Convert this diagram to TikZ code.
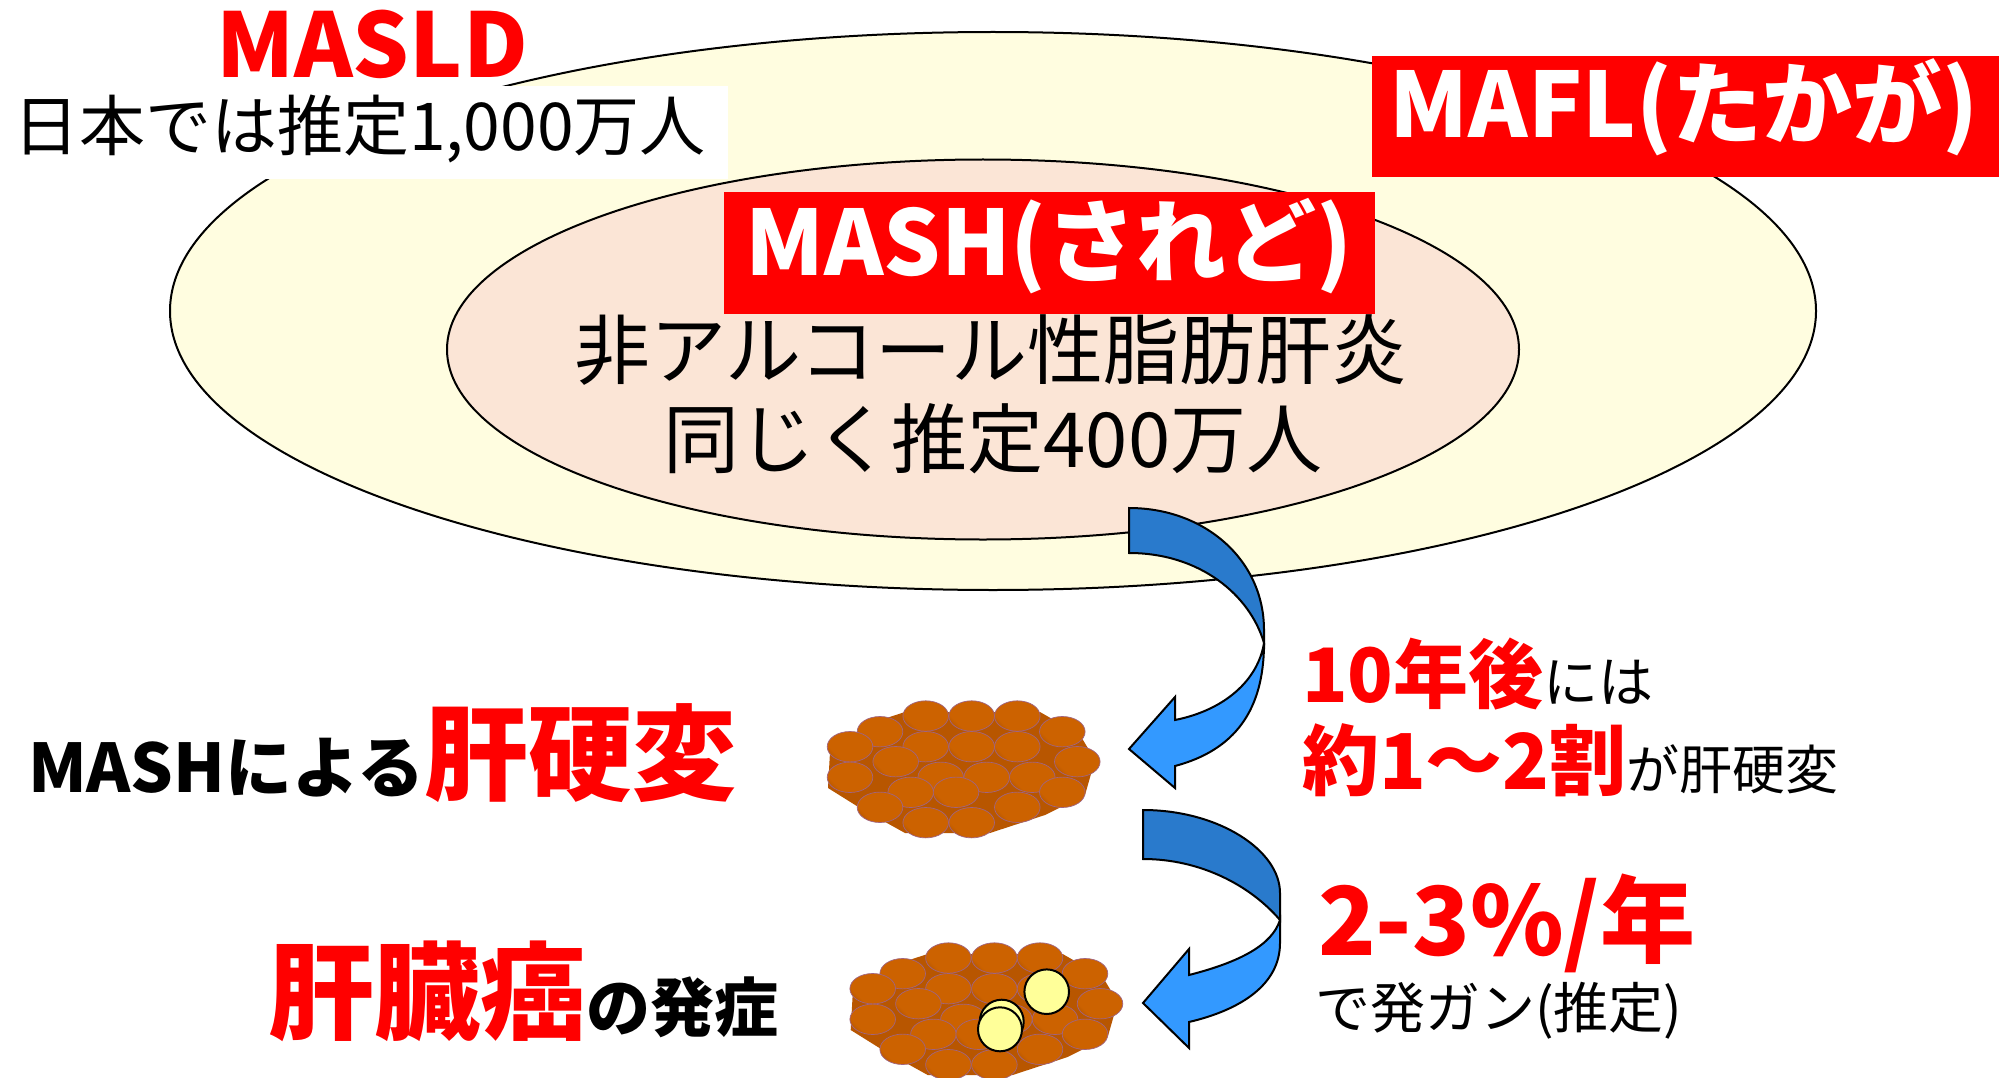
\documentclass[tikz,border=0pt]{standalone}
\usepackage{fontspec}
\setmainfont{Noto Sans CJK JP}
\definecolor{outerfill}{RGB}{255,253,224}
\definecolor{innerfill}{RGB}{251,229,214}
\definecolor{arrowlight}{RGB}{51,153,255}
\definecolor{arrowdark}{RGB}{41,122,204}
\definecolor{celldark}{RGB}{120,54,0}
\definecolor{cellor}{RGB}{204,98,0}
\definecolor{celllight}{RGB}{200,96,0}
\definecolor{cellbase}{RGB}{184,86,0}
\definecolor{cellline}{RGB}{160,100,130}
\definecolor{tumour}{RGB}{255,255,153}
\definecolor{alert}{RGB}{255,0,0}
\pgfdeclarehorizontalshading{cellshade}{100bp}{color(0bp)=(celldark); color(30bp)=(cellor); color(70bp)=(cellor); color(100bp)=(celllight)}
\newcommand\fsz[1]{\fontsize{#1}{#1}\selectfont}
\begin{document}
\begin{tikzpicture}[x=1pt,y=-1pt,
  txt/.style={inner sep=0pt, outer sep=0pt},
  rim/.style={draw=black, line width=2pt},
  banner/.style={fill=alert},
  cell/.style={draw=cellline, line width=0.7pt, shading=cellshade, shading angle=45},
  arrowpart/.style={draw=black, line width=2pt, line join=miter},
  lump/.style={fill=tumour, draw=black, line width=2pt}]
\useasboundingbox[fill=white] (0,0) rectangle (2002,1078);

% nested disease sets
\path[rim, fill=outerfill] (993,311) ellipse[x radius=823, y radius=279];
\path[rim, fill=innerfill] (983,349.5) ellipse[x radius=536, y radius=190];

% MASLD heading
\fill[white] (0,86) rectangle (728,179);
\node[txt, anchor=base, text=alert] (masld) at (372,78) {\fsz{89}\bfseries MASLD};
\node[txt, anchor=base west] (masldnum) at (13,151) {\fsz{66}日本では推定1,000万人};

% MAFL banner
\fill[banner] (1372,56) rectangle (1999,177);
\node[txt, anchor=base, text=white] (mafl) at (1684,138) {\fsz{90}\bfseries MAFL(たかが)};

% MASH banner and description
\fill[banner] (724,192) rectangle (1375,314);
\node[txt, anchor=base, text=white] (mash) at (1049,275) {\fsz{90}\bfseries MASH(されど)};
\node[txt, anchor=base] (mashname) at (991,378) {\fsz{76}非アルコール性脂肪肝炎};
\node[txt, anchor=base] (mashnum) at (993,467) {\fsz{76}同じく推定400万人};

% curved arrow MASH -> cirrhosis
\path[arrowpart, fill=arrowlight] (1264,643) .. controls (1264,710) and (1235,750) .. (1175,766)
  -- (1175,788) -- (1129,749) -- (1175,697) -- (1175,720)
  .. controls (1225,710) and (1258,680) .. (1264,643) -- cycle;
\path[arrowpart, fill=arrowdark] (1129,508) .. controls (1205,508) and (1264,560) .. (1264,630)
  -- (1264,643) .. controls (1250,595) and (1200,553) .. (1129,553) -- cycle;

% curved arrow cirrhosis -> cancer
\path[arrowpart, fill=arrowlight] (1280,920) -- (1280,943) .. controls (1280,985) and (1240,1010) .. (1189,1022)
  -- (1189,1048) -- (1143,1003) -- (1189,949) -- (1189,975)
  .. controls (1240,962) and (1272,945) .. (1280,920) -- cycle;
\path[arrowpart, fill=arrowdark] (1143,810) .. controls (1218,810) and (1280,850) .. (1280,893)
  -- (1280,920) .. controls (1250,885) and (1200,859) .. (1143,859) -- cycle;

% liver tissue (cirrhosis), drawn twice
\foreach \dx/\dy in {0/0, 22.7/242} {
  \begin{scope}[shift={(\dx,\dy)}]
    \fill[cellbase] (830,752) -- (868,724) -- (905,712) -- (1040,712) -- (1080,735) -- (1095,760)
      -- (1085,795) -- (1045,815) -- (990,833) -- (905,833) -- (860,808) -- (828,788) -- cycle;
    \foreach \cx/\cy in {925.7/716, 971.7/716, 1017.3/716,
                         880/731.7, 1062.3/731.7,
                         850/746.7, 925.7/746.7, 971.7/746.7, 1017.3/746.7,
                         895.7/761.7, 1077.3/761.7,
                         850/777.3, 940.7/777.3, 986.7/777.3, 1032.3/777.3,
                         910.7/792.3, 956/792.3, 1062.3/792.3,
                         880/807.3, 1017.3/807.3,
                         925.7/822.7, 971.7/822.7}
      \shadedraw[cell] (\cx,\cy) ellipse[x radius=22.8, y radius=15.2];
  \end{scope}
}

% tumour nodules
\path[lump] (1046.7,991.7) circle[radius=22.3];
\path[lump] (1001.7,1021.7) circle[radius=22];
\path[lump] (1000,1029.3) circle[radius=22];

% stage labels
\node[txt, anchor=base west] (cirrhosis) at (28,792)
  {\fsz{67}\bfseries MASHによる{\fsz{104}\color{alert}肝硬変}};
\node[txt, anchor=base west] (cancer) at (268,1031)
  {{\fsz{106}\bfseries\color{alert}肝臓癌}{\fsz{64}\bfseries の発症}};

% progression rates
\node[txt, anchor=base west] (rate1a) at (1302,702)
  {{\fsz{75}\bfseries\color{alert}10年後}{\fsz{55}には}};
\node[txt, anchor=base west] (rate1b) at (1302,789)
  {{\fsz{77}\bfseries\color{alert}約1～2割}{\fsz{53}が肝硬変}};
\node[txt, anchor=base west] (rate2a) at (1318,955)
  {\fsz{95}\bfseries\color{alert}2-3\%/年};
\node[txt, anchor=base west] (rate2b) at (1315,1028)
  {\fsz{55}で発ガン(推定)};
\end{tikzpicture}
\end{document}
